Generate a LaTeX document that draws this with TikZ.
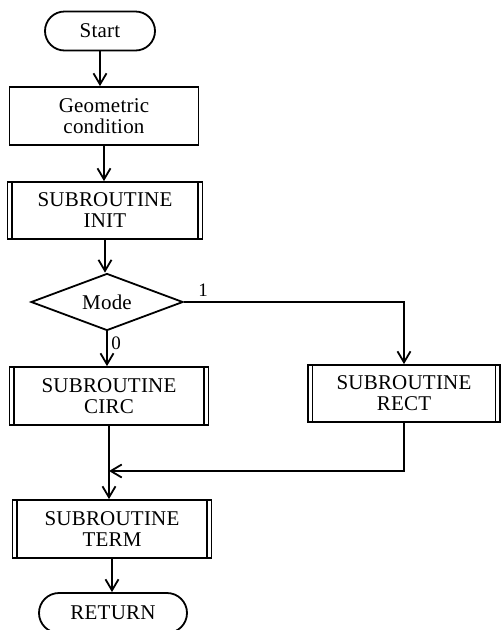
\documentclass[tikz,border=0pt]{standalone}
\usepackage{fontspec}
\setmainfont{Liberation Serif}[LetterSpace=1]
\usetikzlibrary{arrows.meta,shapes.geometric,shapes.misc}
\begin{document}
\begin{tikzpicture}[x=1pt,y=-1pt,
  every node/.style={font=\fontsize{21}{21}\selectfont, align=center, inner sep=0pt},
  arr/.style={line width=1.8pt, -{Straight Barb[length=11pt,width=13pt,line width=1.8pt]}},
  term/.style={draw, line width=1.8pt, rounded rectangle},
  proc/.style={draw, line width=1.8pt, rectangle},
  sub/.style={draw, line width=1.8pt, rectangle,
    path picture={\draw[line width=1.5pt]
      ([xshift=4.5pt]path picture bounding box.north west) -- ([xshift=4.5pt]path picture bounding box.south west)
      ([xshift=-4.5pt]path picture bounding box.north east) -- ([xshift=-4.5pt]path picture bounding box.south east);}},
  dec/.style={draw, line width=1.8pt, diamond, aspect=2.67},
  lbl/.style={font=\fontsize{19}{20}\selectfont}
]
\useasboundingbox (0,0) rectangle (501,630);
\node[term, minimum width=110pt, minimum height=39pt] (start) at (100,31) {Start};
\node[proc, minimum width=189pt, minimum height=58pt] (geo) at (104,116) {Geometric\\condition};
\node[sub, minimum width=195pt, minimum height=57pt] (init) at (105,210.5) {SUBROUTINE\\INIT};
\node[dec, minimum width=152pt, minimum height=57pt] (mode) at (107,302) {Mode};
\node[sub, minimum width=199pt, minimum height=58pt] (circ) at (109,396) {SUBROUTINE\\CIRC};
\node[sub, minimum width=192pt, minimum height=57pt] (rect) at (404,393.5) {SUBROUTINE\\RECT};
\node[sub, minimum width=199pt, minimum height=58pt] (termsub) at (112,529) {SUBROUTINE\\TERM};
\node[term, minimum width=148pt, minimum height=40pt] (ret) at (113,613) {RETURN};
\node[lbl] (one) at (203,290) {1};
\node[lbl] (zero) at (116,343) {0};
\coordinate (j) at (109,471);

\draw[arr] (start.south) -- (start.south |- geo.north);
\draw[arr] (geo.south) -- (geo.south |- init.north);
\draw[arr] (init.south) -- (init.south |- mode.north);
\draw[arr] (mode.south) -- (mode.south |- circ.north);
\draw[arr] (mode.east) -| (rect.north);
\draw[arr] (rect.south) |- (j);
\draw[arr] (circ.south) -- (circ.south |- termsub.north);
\draw[arr] (termsub.south) -- (termsub.south |- ret.north);
\end{tikzpicture}
\end{document}
